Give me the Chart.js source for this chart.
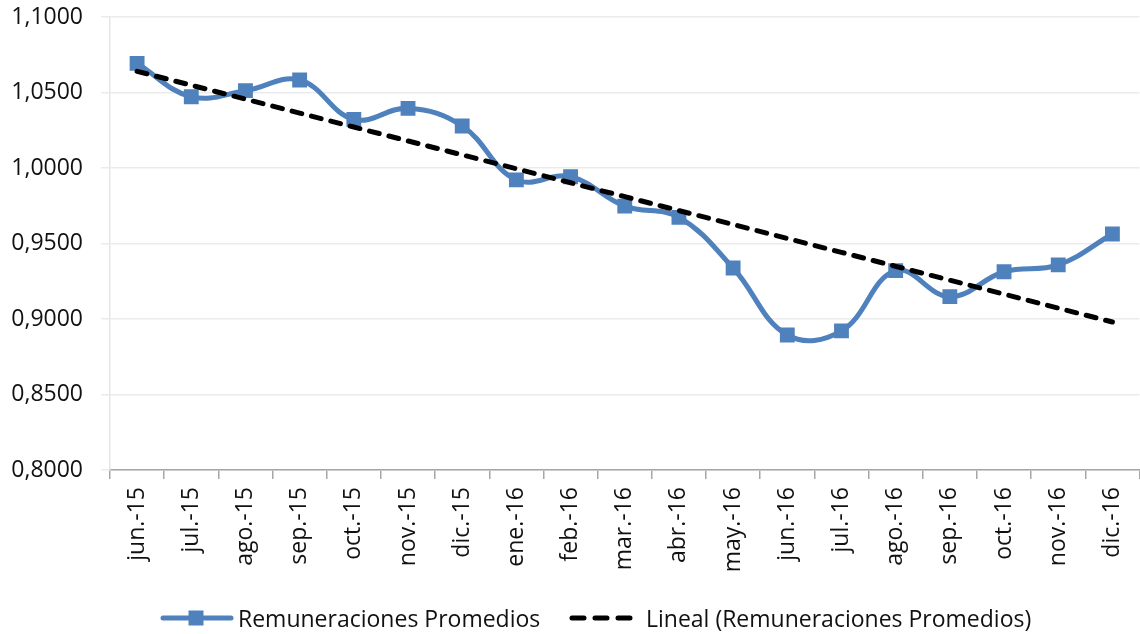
<!DOCTYPE html>
<html>
<head>
<meta charset="utf-8">
<script src="https://cdn.jsdelivr.net/npm/chart.js@4"></script>
<style>
  html, body { margin: 0; padding: 0; background: #fff; overflow: hidden; }
  #wrap { position: relative; width: 1150px; height: 634px; }
  #chart { position: absolute; left: 0; top: 0; }
  .leg { position: absolute; top: 603px; height: 30px; display: flex; align-items: center;
         font-family: "Open Sans", sans-serif; font-size: 23px; color: #111; white-space: nowrap; }
</style>
</head>
<body>
<div id="wrap">
  <canvas id="chart" width="1150" height="634"></canvas>
  <div class="leg" style="left:160px">
    <svg width="74" height="20" style="margin-right:4px">
      <line x1="3" y1="10" x2="71" y2="10" stroke="#4f81bd" stroke-width="5" stroke-linecap="round"/>
      <rect x="28.5" y="2.5" width="15" height="15" fill="#4f81bd"/>
    </svg>
    <span>Remuneraciones Promedios</span>
  </div>
  <div class="leg" style="left:568px">
    <svg width="66" height="20" style="margin-right:12px">
      <line x1="4" y1="10" x2="64" y2="10" stroke="#000" stroke-width="5" stroke-linecap="round" stroke-dasharray="12 11"/>
    </svg>
    <span>Lineal (Remuneraciones Promedios)</span>
  </div>
</div>
<script>
// Datos
const categorias = ["jun.-15", "jul.-15", "ago.-15", "sep.-15", "oct.-15", "nov.-15", "dic.-15",
  "ene.-16", "feb.-16", "mar.-16", "abr.-16", "may.-16", "jun.-16", "jul.-16",
  "ago.-16", "sep.-16", "oct.-16", "nov.-16", "dic.-16"];
const remuneraciones = [1.0693, 1.0472, 1.0512, 1.0583, 1.0322, 1.0395, 1.0278,
  0.9921, 0.9942, 0.9748, 0.9673, 0.9338, 0.8894, 0.8921,
  0.9320, 0.9148, 0.9313, 0.9358, 0.9563];
const yMin = 0.8, yMax = 1.1, yPaso = 0.05;

// Línea de tendencia lineal (mínimos cuadrados, como Excel)
function tendenciaLineal(vals) {
  const n = vals.length;
  let sx = 0, sy = 0, sxy = 0, sxx = 0;
  vals.forEach(function (v, i) { sx += i; sy += v; sxy += i * v; sxx += i * i; });
  const m = (n * sxy - sx * sy) / (n * sxx - sx * sx);
  const b = (sy - m * sx) / n;
  return vals.map(function (v, i) { return b + m * i; });
}
const tendencia = tendenciaLineal(remuneraciones);

const ctx = document.getElementById("chart").getContext("2d");
new Chart(ctx, {
  type: "line",
  data: {
    labels: categorias,
    datasets: [
      {
        label: "Remuneraciones Promedios",
        data: remuneraciones,
        borderColor: "#4f81bd",
        backgroundColor: "#4f81bd",
        borderWidth: 5,
        tension: 0.4,
        pointStyle: "rect",
        pointRadius: 10.5,
        pointBorderWidth: 0,
        pointBackgroundColor: "#4f81bd",
        order: 2
      },
      {
        label: "Lineal (Remuneraciones Promedios)",
        data: tendencia,
        borderColor: "#000",
        borderWidth: 5,
        borderDash: [10, 10],
        borderCapStyle: "round",
        pointRadius: 0,
        tension: 0,
        order: 1
      }
    ]
  },
  options: {
    responsive: false,
    animation: false,
    layout: { padding: { top: 17, right: 2, left: 0, bottom: 0 } },
    plugins: { legend: { display: false }, tooltip: { enabled: false } },
    scales: {
      x: {
        offset: true,
        afterFit: function (s) { s.height = 164; },
        grid: {
          offset: true,
          drawOnChartArea: false,
          color: "#a6a6a6",
          tickLength: 9,
          lineWidth: 1.5
        },
        border: { color: "#a6a6a6", width: 1.5 },
        ticks: {
          minRotation: 90,
          maxRotation: 90,
          autoSkip: false,
          padding: 8,
          color: "#111",
          font: { family: "Open Sans", size: 23 }
        }
      },
      y: {
        min: yMin,
        max: yMax,
        afterFit: function (s) { s.width = 110; s.paddingTop = 0; s.paddingBottom = 0; },
        grid: { color: "#ebebeb", lineWidth: 1.5, tickLength: 9 },
        border: { color: "#e6e6e6", width: 1.5 },
        ticks: {
          stepSize: yPaso,
          padding: 18,
          color: "#111",
          font: { family: "Open Sans", size: 23 },
          callback: function (v) { return v.toFixed(4).replace(".", ","); }
        }
      }
    }
  }
});
</script>
</body>
</html>
